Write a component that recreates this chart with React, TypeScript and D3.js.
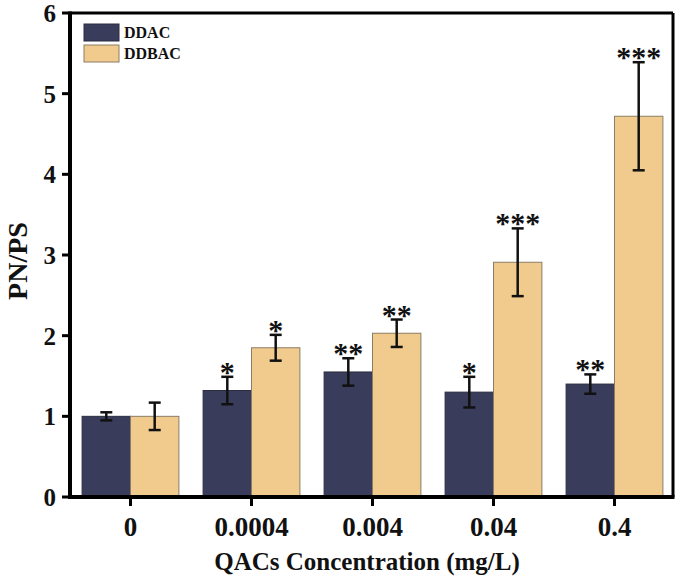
import React from "react";
import * as d3 from "d3";

const categories = ["0", "0.0004", "0.004", "0.04", "0.4"];
const seriesNames = ["DDAC", "DDBAC"];
const ddacValues = [1.0, 1.32, 1.55, 1.3, 1.4];
const ddacErrors = [0.05, 0.17, 0.17, 0.19, 0.12];
const ddbacValues = [1.0, 1.85, 2.03, 2.91, 4.72];
const ddbacErrors = [0.17, 0.16, 0.17, 0.42, 0.67];
const ddacStars = ["", "*", "**", "*", "**"];
const ddbacStars = ["", "*", "**", "***", "***"];
const yTicks = [0, 1, 2, 3, 4, 5, 6];

const colors = ["#393d5b", "#f0cb8d"];
const strokes = ["#2a2c3e", "#8b7d66"];

export default function App() {
  const W = 679;
  const H = 578;
  const left = 70;
  const right = 673;
  const top = 13;
  const bottom = 497;
  const font = "'Liberation Serif', 'Times New Roman', serif";

  const x = d3
    .scaleBand<string>()
    .domain(categories)
    .range([left, 675])
    .paddingInner(0.2)
    .paddingOuter(0.1);
  const x1 = d3
    .scaleBand<string>()
    .domain(seriesNames)
    .range([0, x.bandwidth()]);
  const y = d3.scaleLinear().domain([0, 6]).range([bottom, top]);

  const series = [
    { name: seriesNames[0], values: ddacValues, errors: ddacErrors, stars: ddacStars },
    { name: seriesNames[1], values: ddbacValues, errors: ddbacErrors, stars: ddbacStars },
  ];

  return (
    <svg
      width={W}
      height={H}
      style={{ position: "absolute", left: 0, top: 0, background: "#fff" }}
      fontFamily={font}
      fontWeight="bold"
    >
      {series.map((s, si) =>
        categories.map((c, ci) => {
          const bx = (x(c) as number) + (x1(s.name) as number);
          const bw = x1.bandwidth();
          const v = s.values[ci];
          return (
            <rect
              key={`b-${si}-${ci}`}
              x={bx}
              y={y(v)}
              width={bw}
              height={y(0) - y(v)}
              fill={colors[si]}
              stroke={strokes[si]}
              strokeWidth={1}
            />
          );
        })
      )}
      {series.map((s, si) =>
        categories.map((c, ci) => {
          const cx = (x(c) as number) + (x1(s.name) as number) + x1.bandwidth() / 2;
          const v = s.values[ci];
          const e = s.errors[ci];
          const yt = y(v + e);
          const yb = y(v - e);
          const cap = 6;
          return (
            <g key={`e-${si}-${ci}`}>
              <line x1={cx} x2={cx} y1={yt} y2={yb} stroke="#111" strokeWidth={2.5} />
              <line x1={cx - cap} x2={cx + cap} y1={yt} y2={yt} stroke="#111" strokeWidth={2.5} />
              <line x1={cx - cap} x2={cx + cap} y1={yb} y2={yb} stroke="#111" strokeWidth={2.5} />
              {s.stars[ci] && (
                <text
                  x={cx}
                  y={yt + 5}
                  textAnchor="middle"
                  fontSize={30}
                  fill="#111"
                >
                  {s.stars[ci]}
                </text>
              )}
            </g>
          );
        })
      )}
      <line x1={left} x2={right} y1={top} y2={top} stroke="#000" strokeWidth={3} />
      <line x1={right} x2={right} y1={top} y2={bottom} stroke="#000" strokeWidth={3} />
      <line x1={left} x2={right + 1.5} y1={bottom} y2={bottom} stroke="#000" strokeWidth={4} />
      <line x1={left} x2={left} y1={top - 1.5} y2={bottom + 2} stroke="#000" strokeWidth={4} />
      {yTicks.map((t) => (
        <g key={`yt-${t}`}>
          <line x1={left - 8} x2={left} y1={y(t)} y2={y(t)} stroke="#000" strokeWidth={3} />
          <text x={left - 14} y={y(t) + 9} textAnchor="end" fontSize={25} fill="#111">
            {t}
          </text>
        </g>
      ))}
      {categories.map((c) => {
        const cx = (x(c) as number) + x.bandwidth() / 2;
        return (
          <g key={`xt-${c}`}>
            <line x1={cx} x2={cx} y1={bottom} y2={bottom + 9} stroke="#000" strokeWidth={3} />
            <text x={cx} y={536} textAnchor="middle" fontSize={27} fill="#111">
              {c}
            </text>
          </g>
        );
      })}
      <text
        transform={`translate(27, ${(top + bottom) / 2 + 6}) rotate(-90)`}
        textAnchor="middle"
        fontSize={28}
        fill="#111"
      >
        PN/PS
      </text>
      <text x={367} y={570} textAnchor="middle" fontSize={25} fill="#111">
        QACs Concentration (mg/L)
      </text>
      {seriesNames.map((n, i) => (
        <g key={`lg-${n}`}>
          <rect
            x={84}
            y={24 + i * 21}
            width={35}
            height={17}
            fill={colors[i]}
            stroke={strokes[i]}
            strokeWidth={1}
          />
          <text x={124} y={38 + i * 21} fontSize={16} fill="#111">
            {n}
          </text>
        </g>
      ))}
    </svg>
  );
}
